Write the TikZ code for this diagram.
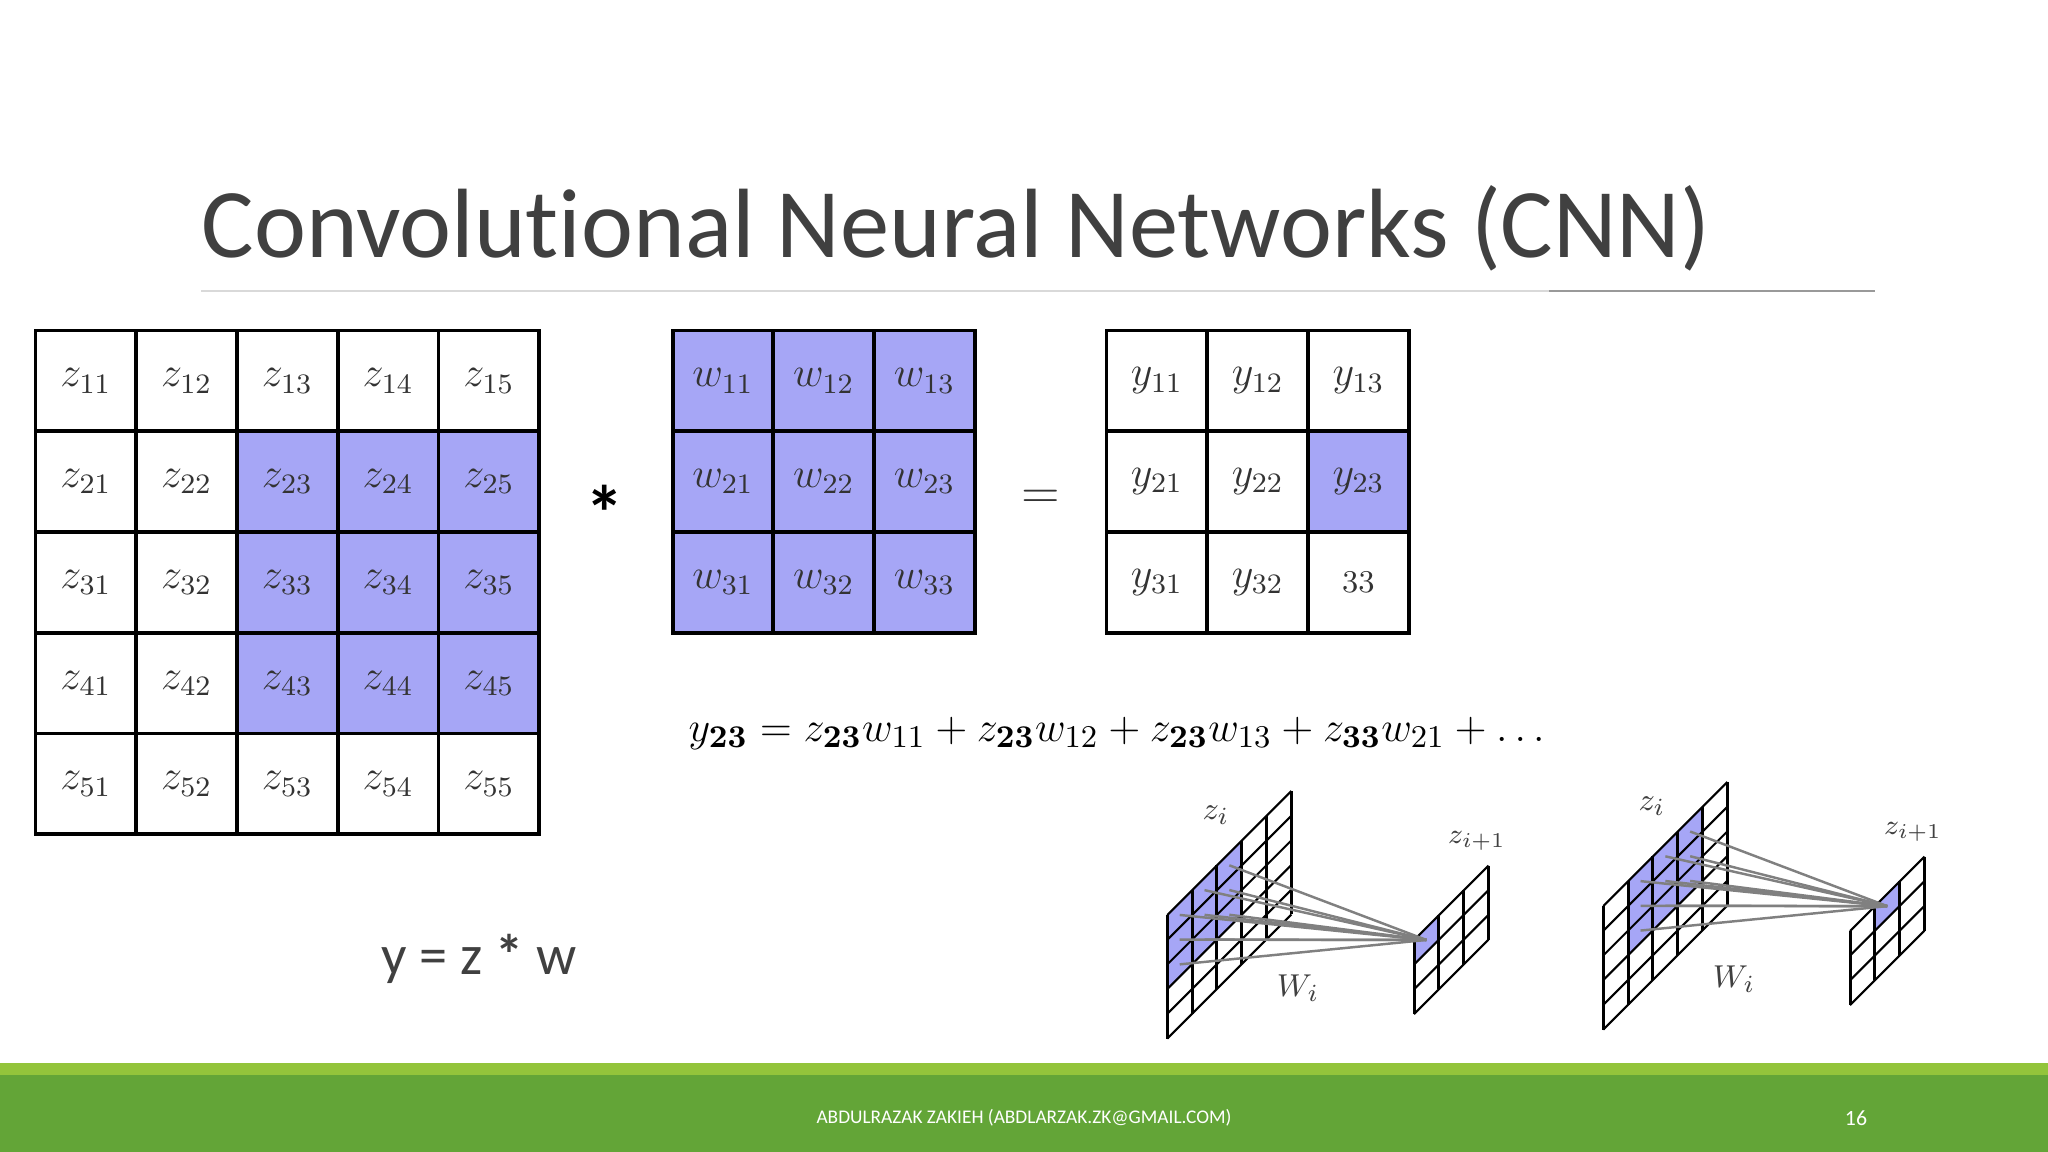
\documentclass[tikz,border=0pt]{standalone}
\usepackage{amsmath}
\usepackage[no-math]{fontspec}
\setmainfont{Carlito}[Ligatures=NoCommon]
\usepackage{color}
\definecolor{cellblue}{HTML}{A6A6F6}
\definecolor{slidegray}{HTML}{404040}
\definecolor{barlight}{HTML}{93C43B}
\definecolor{bardark}{HTML}{63A537}
\tikzset{
  cell/.style={font=\fontsize{12}{14}\selectfont, text=black!80},
  tableline/.style={black, line width=1.1pt, line cap=rect},
  slidetext/.style={text=slidegray, inner sep=0pt},
  sheetlabel/.style={font=\fontsize{9.5}{11}\selectfont, text=black!75},
  ray/.style={gray, line width=0.7pt}
}
\begin{document}
\begin{tikzpicture}[x=0.01cm,y=-0.01cm]
\useasboundingbox (0,0) rectangle (2048,1152);

% title and rule
\node[slidetext,anchor=base west,font=\fontsize{28}{32}\selectfont] (title) at (201,258) {Convolutional Neural Networks (CNN)};
\draw[black!15, line width=0.4pt] (201,291) -- (1875,291);
\draw[black!40, line width=0.4pt] (1549,291) -- (1875,291);

% z table
\begin{scope}[shift={(35.5,330.5)},x=1.007cm,y=-1.007cm]
\fill[cellblue] (2,1) rectangle (5,4);
\foreach \k in {0,...,5}{
  \draw[tableline] (\k,0) -- (\k,5);
  \draw[tableline] (0,\k) -- (5,\k);
}
\foreach \r in {1,...,5}
  \foreach \c in {1,...,5}
    \node[cell] (z\r\c) at (\c-0.5,\r-0.5) {$z_{\r\c}$};
\end{scope}

% w table
\begin{scope}[shift={(672.6,330.5)},x=1.007cm,y=-1.007cm]
\fill[cellblue] (0,0) rectangle (3,3);
\foreach \k in {0,...,3}{
  \draw[tableline] (\k,0) -- (\k,3);
  \draw[tableline] (0,\k) -- (3,\k);
}
\foreach \r in {1,2,3}
  \foreach \c in {1,2,3}
    \node[cell] (w\r\c) at (\c-0.5,\r-0.5) {$w_{\r\c}$};
\end{scope}

% y table
\begin{scope}[shift={(1106.5,330.5)},x=1.007cm,y=-1.007cm]
\fill[cellblue] (2,1) rectangle (3,2);
\foreach \k in {0,...,3}{
  \draw[tableline] (\k,0) -- (\k,3);
  \draw[tableline] (0,\k) -- (3,\k);
}
\foreach \r/\c in {1/1,1/2,1/3,2/1,2/2,2/3,3/1,3/2}
  \node[cell] (y\r\c) at (\c-0.5,\r-0.5) {$y_{\r\c}$};
\node[cell,font=\fontsize{9}{11}\selectfont] (y33) at (2.5,2.5) {$33$};
\end{scope}

\node[text=black,font=\bfseries\fontsize{22}{24}\selectfont,inner sep=0pt] (star) at (605,513) {*};
\node[cell,font=\fontsize{15}{18}\selectfont] (equals) at (1041,499) {$=$};

% formula
\node[anchor=base west,inner sep=0pt,font=\fontsize{12.15}{14}\selectfont] (formula) at (688,741)
  {$y_{\mathbf{23}} = z_{\mathbf{23}}w_{11} + z_{\mathbf{23}}w_{12} + z_{\mathbf{23}}w_{13} + z_{\mathbf{33}}w_{21} + \dots$};

\node[slidetext,anchor=base west,font=\fontsize{16}{19}\selectfont] (ysum) at (381,974) {y = z {\bfseries *} w};

% the two sheet figures
\foreach \gx/\gy/\sc/\tc/\n in {0/0/0/0/a,436/-9/1/1/b}{
\begin{scope}[shift={(1167.3+\gx,915+\gy)},x={(0.248cm,0.248cm)},y={(0,-0.247cm)}]
\fill[cellblue] (\sc,0) -- (\sc+3,0) -- (\sc+3,3) -- (\sc,3) -- cycle;
\foreach \i in {0,...,5}
  \draw[black,line width=0.85pt] (\i,0) -- (\i,5);
\foreach \j in {0,...,5}
  \draw[black,line width=0.6pt] (0,\j) -- (5,\j);
\foreach \i in {0,1,2}
  \foreach \j in {0,1,2}
    \coordinate (src\n\i\j) at (\sc+\i+0.5,\j+0.5);
\end{scope}
\begin{scope}[shift={(1414+\gx,940+\gy)},x={(0.248cm,0.248cm)},y={(0,-0.247cm)}]
\fill[cellblue] (\tc,0) -- (\tc+1,0) -- (\tc+1,1) -- (\tc,1) -- cycle;
\foreach \i in {0,...,3}
  \draw[black,line width=0.85pt] (\i,0) -- (\i,3);
\foreach \j in {0,...,3}
  \draw[black,line width=0.6pt] (0,\j) -- (3,\j);
\coordinate (dst\n) at (\tc+0.5,0.5);
\end{scope}
\foreach \i in {0,1,2}
  \foreach \j in {0,1,2}
    \draw[ray] (src\n\i\j) -- (dst\n);
\node[sheetlabel] (zi\n) at (1216+\gx,815+\gy) {$z_i$};
\node[sheetlabel,font=\fontsize{8.5}{10}\selectfont] (zn\n) at (1477+\gx,841+\gy) {$z_{i+1}$};
\node[sheetlabel] (wi\n) at (1298+\gx,988+\gy) {$W_i$};
}

% footer
\fill[barlight] (0,1063) rectangle (2048,1075);
\fill[bardark] (0,1075) rectangle (2048,1152);
\node[text=white,font=\fontsize{5.5}{7}\selectfont,inner sep=0pt] (author) at (1024,1118) {ABDULRAZAK ZAKIEH (ABDLARZAK.ZK@GMAIL.COM)};
\node[text=white,font=\fontsize{6.2}{8}\selectfont,inner sep=0pt] (pagenum) at (1856,1118) {16};
\end{tikzpicture}
\end{document}
